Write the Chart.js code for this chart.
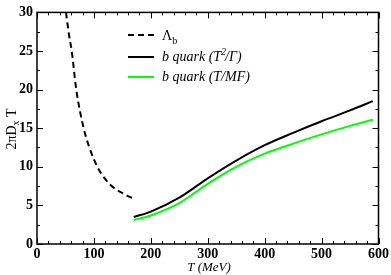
<!DOCTYPE html>
<html lang="en">
<head>
    <meta charset="UTF-8">
    <title>Diffusion coefficient</title>
    <script src="https://cdn.jsdelivr.net/npm/chart.js"></script>
    <style>
        html, body { margin: 0; padding: 0; background: #fff; }
        #wrap { width: 391px; height: 275px; }
    </style>
</head>
<body>
    <div id="wrap"><canvas id="chart" width="391" height="275"></canvas></div>

    <script>
        // Lambda_b (hadronic phase)
        const lambdaT = [51, 56, 61, 69, 82, 92, 106, 120, 138, 150, 160, 170];
        const lambdaD = [30, 27.2, 25, 20, 15, 12.5, 10, 8.4, 7.1, 6.6, 6.2, 5.9];

        // b quark (QGP phase)
        const quarkT = [170, 200, 250, 300, 350, 400, 450, 500, 550, 590];
        const quarkGamma = [3.5, 4.2, 6.0, 8.5, 10.8, 12.8, 14.4, 15.9, 17.3, 18.5];
        const quarkMF = [3.1, 3.7, 5.3, 7.8, 10.0, 11.7, 13.0, 14.2, 15.3, 16.1];

        const xTicks = [0, 100, 200, 300, 400, 500, 600];
        const yTicks = [0, 5, 10, 15, 20, 25, 30];

        const toPoints = (xs, ys) => xs.map((x, i) => ({ x: x, y: ys[i] }));
        const serif = '"Liberation Serif"';
        Chart.defaults.font.family = serif;

        // inward ticks on all four sides, frame, titles and legend
        const decor = {
            id: 'decor',
            afterDraw(chart) {
                const ctx = chart.ctx;
                const a = chart.chartArea;
                const xs = chart.scales.x, ys = chart.scales.y;
                ctx.save();
                ctx.strokeStyle = '#000';
                ctx.lineWidth = 1.5;
                ctx.strokeRect(a.left, a.top, a.right - a.left, a.bottom - a.top);

                ctx.lineWidth = 1;
                ctx.beginPath();
                for (let v = 0; v <= 600; v += 20) {
                    const px = Math.round(xs.getPixelForValue(v)) + 0.5;
                    const len = v % 100 === 0 ? 6 : 3;
                    ctx.moveTo(px, a.bottom); ctx.lineTo(px, a.bottom - len);
                    ctx.moveTo(px, a.top); ctx.lineTo(px, a.top + len);
                }
                for (let v = 0; v <= 30; v += 2.5) {
                    const py = Math.round(ys.getPixelForValue(v)) + 0.5;
                    const len = v % 5 === 0 ? 6 : 3;
                    ctx.moveTo(a.left, py); ctx.lineTo(a.left + len, py);
                    ctx.moveTo(a.right, py); ctx.lineTo(a.right - len, py);
                }
                ctx.stroke();

                ctx.fillStyle = '#000';
                ctx.textBaseline = 'alphabetic';

                // x title
                ctx.font = 'italic 13px ' + serif;
                ctx.textAlign = 'center';
                ctx.fillText('T (MeV)', 209, 271);

                // y title: 2πD_x T
                ctx.save();
                ctx.translate(16, 129);
                ctx.rotate(-Math.PI / 2);
                ctx.textAlign = 'left';
                ctx.font = '14px ' + serif;
                const p1 = '2πD';
                const w1 = ctx.measureText(p1).width;
                ctx.font = '10px ' + serif;
                const ws = ctx.measureText('x').width;
                ctx.font = '14px ' + serif;
                const w3 = ctx.measureText(' T').width;
                let sx = -(w1 + ws + w3) / 2;
                ctx.fillText(p1, sx, 0);
                ctx.font = '10px ' + serif;
                ctx.fillText('x', sx + w1, 3);
                ctx.font = '14px ' + serif;
                ctx.fillText(' T', sx + w1 + ws, 0);
                ctx.restore();

                // legend
                const lx0 = 128, lx1 = 154, tx = 162;
                ctx.lineWidth = 2;
                ctx.strokeStyle = '#000';
                ctx.setLineDash([6, 4]);
                ctx.beginPath(); ctx.moveTo(lx0, 35); ctx.lineTo(lx1, 35); ctx.stroke();
                ctx.setLineDash([]);
                ctx.beginPath(); ctx.moveTo(lx0, 57); ctx.lineTo(lx1, 57); ctx.stroke();
                ctx.strokeStyle = '#00ff00';
                ctx.beginPath(); ctx.moveTo(lx0, 77); ctx.lineTo(lx1, 77); ctx.stroke();

                ctx.textAlign = 'left';
                ctx.font = '14px ' + serif;
                ctx.fillText('Λ', tx, 40);
                const wl = ctx.measureText('Λ').width;
                ctx.font = '10px ' + serif;
                ctx.fillText('b', tx + wl, 44);

                ctx.font = 'italic 14px ' + serif;
                const s1 = 'b quark (T';
                ctx.fillText(s1, tx, 61);
                const ww = ctx.measureText(s1).width;
                ctx.font = 'italic 10px ' + serif;
                ctx.fillText('2', tx + ww, 55);
                const w2 = ctx.measureText('2').width;
                ctx.font = 'italic 14px ' + serif;
                ctx.fillText('/Γ)', tx + ww + w2 - 1, 61);
                ctx.fillText('b quark (T/MF)', tx, 81);
                ctx.restore();
            }
        };

        new Chart(document.getElementById('chart').getContext('2d'), {
            type: 'line',
            data: {
                datasets: [
                    {
                        label: 'Λb',
                        data: toPoints(lambdaT, lambdaD),
                        borderColor: '#000',
                        borderWidth: 2,
                        borderDash: [6, 4],
                        pointRadius: 0,
                        cubicInterpolationMode: 'monotone',
                        fill: false
                    },
                    {
                        label: 'b quark (T²/Γ)',
                        data: toPoints(quarkT, quarkGamma),
                        borderColor: '#000',
                        borderWidth: 2,
                        pointRadius: 0,
                        cubicInterpolationMode: 'monotone',
                        fill: false
                    },
                    {
                        label: 'b quark (T/MF)',
                        data: toPoints(quarkT, quarkMF),
                        borderColor: '#00ff00',
                        borderWidth: 2,
                        pointRadius: 0,
                        cubicInterpolationMode: 'monotone',
                        fill: false
                    }
                ]
            },
            options: {
                responsive: false,
                animation: false,
                layout: { padding: { top: 5, right: 12, left: 0, bottom: 0 } },
                plugins: {
                    legend: { display: false },
                    tooltip: { enabled: false }
                },
                scales: {
                    x: {
                        type: 'linear',
                        min: 0,
                        max: 600,
                        afterFit: s => { s.height = 31; },
                        afterBuildTicks: s => { s.ticks = xTicks.map(v => ({ value: v })); },
                        grid: { display: false, drawTicks: false, tickLength: 0 },
                        border: { display: false },
                        ticks: {
                            padding: 2,
                            color: '#000',
                            font: { family: serif, size: 14, weight: 'bold' }
                        }
                    },
                    y: {
                        min: 0,
                        max: 30,
                        afterFit: s => { s.width = 37; },
                        afterBuildTicks: s => { s.ticks = yTicks.map(v => ({ value: v })); },
                        grid: { display: false, drawTicks: false, tickLength: 0 },
                        border: { display: false },
                        ticks: {
                            padding: 4,
                            color: '#000',
                            font: { family: serif, size: 14, weight: 'bold' }
                        }
                    }
                }
            },
            plugins: [decor]
        });
    </script>
</body>
</html>
